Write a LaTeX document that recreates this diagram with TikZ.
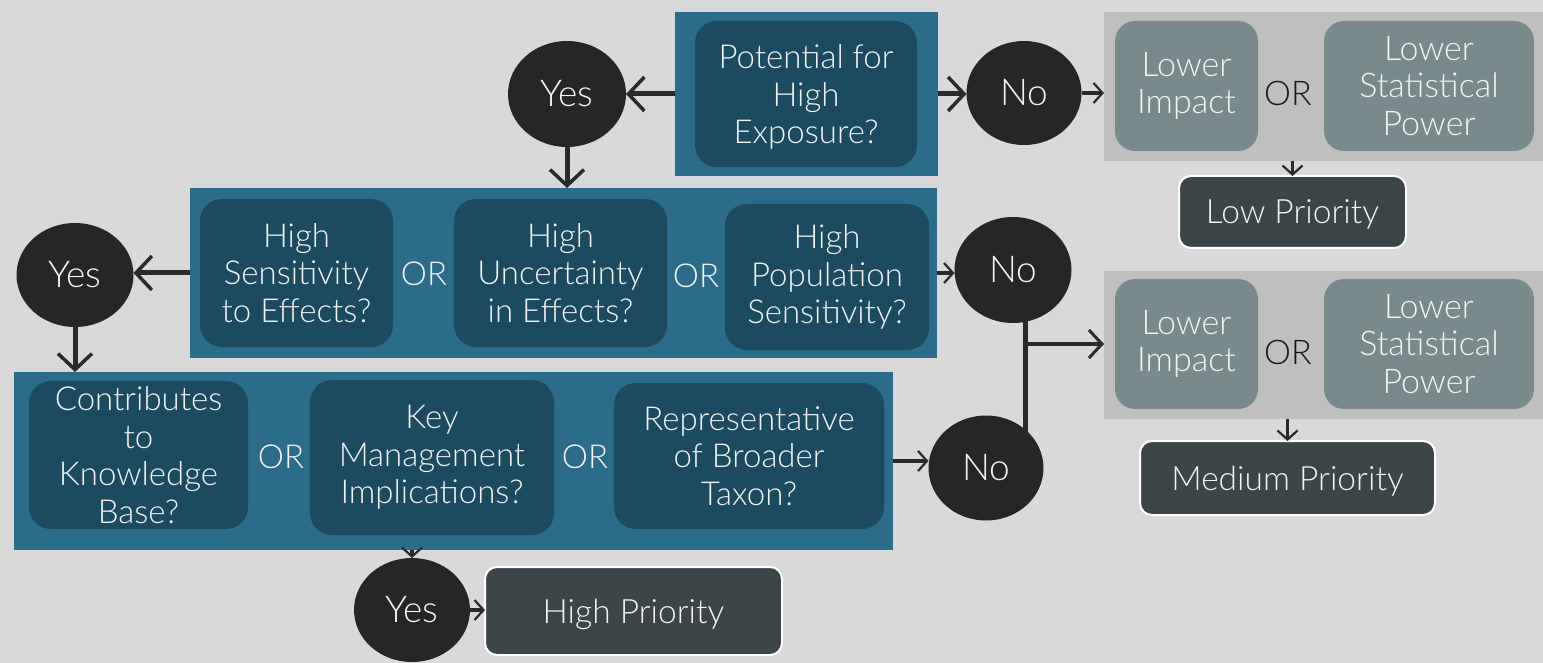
\documentclass[tikz,border=0pt]{standalone}
\usepackage{fontspec}
\setmainfont{Lato Light}
\usetikzlibrary{arrows.meta,shapes.geometric}
\definecolor{bg}{HTML}{D9D9D9}
\definecolor{blueout}{HTML}{2A6C8A}
\definecolor{bluein}{HTML}{1C4A5E}
\definecolor{circfill}{HTML}{262626}
\definecolor{panelgray}{HTML}{BFBFBF}
\definecolor{boxgray}{HTML}{798A8C}
\definecolor{priofill}{HTML}{3C4548}
\definecolor{linecol}{HTML}{2A2A2A}
\definecolor{txt}{HTML}{F4F4F4}
\newcommand\myqfont{\fontsize{33}{37.5}\selectfont}
\newcommand\mygfont{\fontsize{34}{37.5}\selectfont}
\newcommand\mycfont{\fontsize{37}{40}\selectfont}
\newcommand\mypfont{\fontsize{33.5}{36}\selectfont}
\pgfdeclarelayer{background}
\pgfsetlayers{background,main}
\begin{document}
\begin{tikzpicture}[x=1pt,y=-1pt,
  outer/.style={fill=blueout, inner sep=0pt, outer sep=0pt},
  qbox/.style={fill=bluein, rounded corners=22pt, text=txt, align=center, font=\myqfont, inner sep=0pt, outer sep=0pt},
  circ/.style={ellipse, fill=circfill, text=txt, font=\mycfont, inner sep=0pt, outer sep=0pt},
  panel/.style={fill=panelgray, inner sep=0pt, outer sep=0pt},
  gbox/.style={fill=boxgray, rounded corners=20pt, text=txt, align=center, font=\mygfont, inner sep=0pt, outer sep=0pt},
  prio/.style={fill=priofill, draw=white, line width=2pt, rounded corners=12pt, text=txt, font=\mypfont, inner sep=0pt, outer sep=0pt, text depth=0pt},
  orw/.style={text=txt, font=\myqfont, inner sep=0pt},
  ork/.style={text=black!90, font=\mygfont, inner sep=0pt},
  bigarr/.style={draw=linecol, line width=5pt, -{Straight Barb[length=16pt,width=34pt,line width=3.5pt]}},
  midarr/.style={draw=linecol, line width=4.5pt, -{Straight Barb[length=13pt,width=28pt,line width=3pt]}},
  smallarr/.style={draw=linecol, line width=3.5pt, -{Straight Barb[length=9pt,width=20pt,line width=2.2pt]}}
]
\useasboundingbox (0,0) rectangle (1543,663);
\begin{pgfonlayer}{background}
\fill[bg] (0,0) rectangle (1543,663);
\end{pgfonlayer}

% Row A
\node[outer, minimum width=263pt, minimum height=164pt] (A) at (806.5,94) {};
\node[qbox, minimum width=222pt, minimum height=146pt, text depth=0pt] (Aq) at (806,94) {Potential for\\High\\Exposure?};
\node[circ, minimum width=118pt, minimum height=106pt] (Yes1) at (567,94) {Yes};
\node[circ, minimum width=115pt, minimum height=104pt] (No1) at (1024,93) {No};
\node[panel, minimum width=439pt, minimum height=149pt] (P1) at (1323.5,86.5) {};
\node[gbox, minimum width=143pt, minimum height=130pt] (LI1) at (1186.5,86) {Lower\\Impact};
\node[gbox, minimum width=210pt, minimum height=130pt] (LS1) at (1429,86) {Lower\\Statistical\\Power};
\node[ork] (OR1) at (1288,93) {OR};
\node[prio, minimum width=227pt, minimum height=72pt] (Low) at (1292.5,212) {Low Priority};

% Row B
\node[outer, minimum width=747pt, minimum height=170pt] (B) at (563.5,273) {};
\node[qbox, minimum width=193pt, minimum height=148pt] (B1) at (296.5,273) {High\\Sensitivity\\to Effects?};
\node[orw] (ORb1) at (424,274) {OR};
\node[qbox, minimum width=213pt, minimum height=148pt] (B2) at (560.5,273) {High\\Uncertainty\\in Effects?};
\node[orw] (ORb2) at (696,276) {OR};
\node[qbox, minimum width=204pt, minimum height=146pt] (B3) at (827,277) {High\\Population\\Sensitivity?};
\node[circ, minimum width=117pt, minimum height=104pt] (Yes2) at (75,275) {Yes};
\node[circ, minimum width=117pt, minimum height=106pt] (No2) at (1013,270) {No};

\node[panel, minimum width=439pt, minimum height=148pt] (P2) at (1323.5,345) {};
\node[gbox, minimum width=143pt, minimum height=130pt] (LI2) at (1186.5,344) {Lower\\Impact};
\node[gbox, minimum width=210pt, minimum height=130pt] (LS2) at (1429,344) {Lower\\Statistical\\Power};
\node[ork] (OR2) at (1288,352) {OR};
\node[prio, minimum width=295pt, minimum height=74pt] (Med) at (1287.5,478) {Medium Priority};

% Row C
\node[outer, minimum width=879pt, minimum height=178pt] (C) at (453.5,461) {};
\node[qbox, minimum width=219pt, minimum height=148pt] (C1) at (138.5,455) {Contributes\\to\\Knowledge\\Base?};
\node[orw] (ORc1) at (281,457) {OR};
\node[qbox, minimum width=244pt, minimum height=155pt] (C2) at (432,457.5) {Key\\Management\\Implications?};
\node[orw] (ORc2) at (585,457) {OR};
\node[qbox, minimum width=270pt, minimum height=146pt] (C3) at (749,456) {Representative\\of Broader\\Taxon?};
\node[circ, minimum width=115pt, minimum height=105pt] (No3) at (986,468) {No};
\node[circ, minimum width=116pt, minimum height=104pt] (Yes3) at (412,610) {Yes};
\node[prio, minimum width=297pt, minimum height=88pt] (High) at (633.5,611) {High Priority};

% connectors
\draw[bigarr] (A.west) -- (Yes1.east);
\draw[bigarr] (A.east) -- (A.east -| No1.west);
\draw[smallarr] (No1.east) -- (No1.east -| P1.west);
\draw[bigarr] (Yes1.south) -- (Yes1.south |- B.north);
\draw[smallarr] (Low.north |- P1.south) -- (Low.north);
\draw[bigarr] (B.west) -- (B.west -| Yes2.east);
\draw[bigarr] (Yes2.south) -- (Yes2.south |- C.north);
\draw[smallarr] (B.east) -- (B.east -| No2.west);
\coordinate (j1) at (1025,270);
\coordinate (j2) at (1025,468);
\coordinate (br) at (1025,344);
\begin{pgfonlayer}{background}
\draw[draw=linecol, line width=5pt] (j1) -- (j2);
\end{pgfonlayer}
\draw[midarr] (br) -- (br -| P2.west);
\draw[smallarr] (Med.north |- P2.south) -- (Med.north);
\draw[smallarr] (C.east) -- (C.east -| No3.west);
\draw[smallarr] (Yes3.north |- C.south) -- (Yes3.north);
\draw[smallarr] (Yes3.east) -- (Yes3.east -| High.west);
\end{tikzpicture}
\end{document}
